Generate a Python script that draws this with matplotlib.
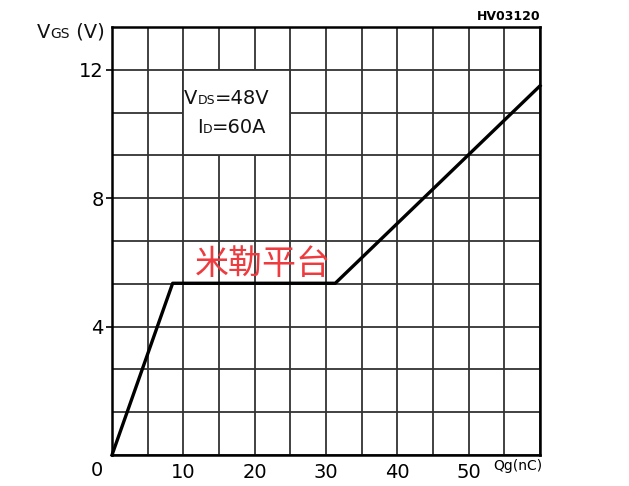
import matplotlib
matplotlib.use("Agg")
import matplotlib.pyplot as plt
import numpy as np
from matplotlib.patches import Rectangle
from matplotlib.offsetbox import TextArea, HPacker, AnnotationBbox

# data
qg_nc = [0, 8.5, 31.3, 60]
vgs_v = [0, 5.35, 5.35, 11.5]
x_labels = ["10", "20", "30", "40", "50"]
x_label_pos = [10, 20, 30, 40, 50]
y_label_pos = [4, 8, 12]
y_labels = ["4", "8", "12"]

plt.rcParams['font.family'] = ['DejaVu Sans', 'Noto Sans CJK SC']

W, H = 629, 486
fig = plt.figure(figsize=(W / 100, H / 100), dpi=100)
ax = fig.add_axes([112 / W, 1 - 455 / H, (540 - 112) / W, (455 - 27) / H])

ax.set_xlim(0, 60)
ax.set_ylim(0, 40 / 3)

ax.set_xticks(x_label_pos)
ax.set_xticklabels(x_labels, fontsize=14)
ax.set_xticks(np.arange(0, 60.1, 5), minor=True)
ax.set_yticks(y_label_pos)
ax.set_yticklabels(y_labels, fontsize=14)
ax.set_yticks(np.arange(0, 13.4, 4 / 3), minor=True)
ax.tick_params(axis='x', which='both', length=0, pad=6)
ax.tick_params(axis='y', which='major', length=4, width=1.2, pad=2)
ax.tick_params(axis='y', which='minor', length=0)
ax.set_axisbelow(True)
ax.grid(True, which='both', color='#333333', linewidth=1.3)
for s in ax.spines.values():
    s.set_linewidth(1.8)
    s.set_color('black')

# white box behind the annotation
ax.add_patch(Rectangle((10, 28 / 3), 15, 8 / 3, facecolor='white',
                       edgecolor='#333333', linewidth=1.3, zorder=1))

ax.plot(qg_nc, vgs_v, color='black', linewidth=2.4, zorder=3, clip_on=False)

def packed(parts, xy):
    kids = [TextArea(t, textprops=dict(size=s, color='#111111')) for t, s in parts]
    box = HPacker(children=kids, align='baseline', pad=0, sep=0)
    ab = AnnotationBbox(box, xy, xycoords='figure pixels', frameon=False,
                        box_alignment=(0, 0.5), pad=0)
    fig.add_artist(ab)

packed([("V", 14), ("DS", 9), ("=48V", 14)], (184, H - 98))
packed([("I", 14), ("D", 9), ("=60A", 14)], (197, H - 127))
packed([("V", 14), ("GS", 10), (" (V)", 14)], (37, H - 32))

fig.text(97 / W, 1 - 470 / H, "0", fontsize=14, ha='center', va='center')
fig.text(540 / W, 1 - 17 / H, "HV03120", fontsize=9, fontweight='bold',
         ha='right', va='center')
fig.text(518 / W, 1 - 466 / H, "Qg(nC)", fontsize=10, ha='center', va='center')

ax.text(21.2, 5.95, "米勒平台", fontsize=24.5, color='#ee3b3f', ha='center',
        va='center', family=['Noto Sans CJK SC'], zorder=4)

fig.savefig("out.png", dpi=100)
